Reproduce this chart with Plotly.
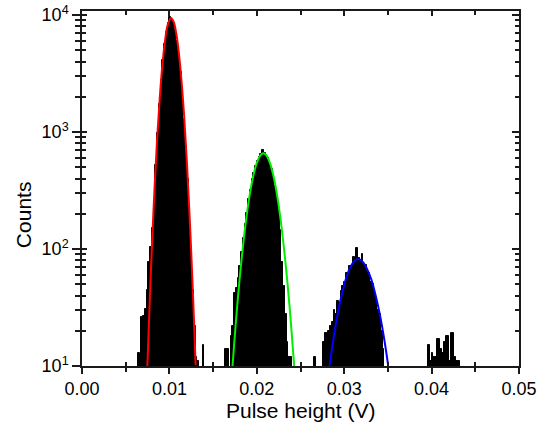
import plotly.graph_objects as go

# Histogram: bin centres (V) and counts
bin_center_v = [
    0.0065, 0.0067, 0.0069, 0.0071, 0.0073, 0.0075, 0.0077, 0.0079, 0.0081, 0.0083,
    0.0085, 0.0087, 0.0089, 0.0091, 0.0093, 0.0095, 0.0097, 0.0099, 0.0101, 0.0103,
    0.0105, 0.0107, 0.0109, 0.0111, 0.0113, 0.0115, 0.0117, 0.0119, 0.0121, 0.0123,
    0.0125, 0.0127, 0.0129, 0.0131, 0.0133, 0.0139,
    0.0165, 0.0167, 0.0171, 0.0173, 0.0175, 0.0177, 0.0179, 0.0181, 0.0183, 0.0185,
    0.0187, 0.0189, 0.0191, 0.0193, 0.0195, 0.0197, 0.0199, 0.0201, 0.0203, 0.0205,
    0.0207, 0.0209, 0.0211, 0.0213, 0.0215, 0.0217, 0.0219, 0.0221, 0.0223, 0.0225,
    0.0227, 0.0229, 0.0231, 0.0233, 0.0235, 0.0237, 0.0239,
    0.0267, 0.0277, 0.0279, 0.0281, 0.0283, 0.0285, 0.0287, 0.0289, 0.0291, 0.0293,
    0.0295, 0.0297, 0.0299, 0.0301, 0.0303, 0.0305, 0.0307, 0.0309, 0.0311, 0.0313,
    0.0315, 0.0317, 0.0319, 0.0321, 0.0323, 0.0325, 0.0327, 0.0329, 0.0331, 0.0333,
    0.0335, 0.0337, 0.0339, 0.0341, 0.0343, 0.0345,
    0.0397, 0.0399, 0.0401, 0.0403, 0.0405, 0.0407, 0.0409, 0.0411, 0.0413, 0.0415,
    0.0417, 0.0419, 0.0421, 0.0423, 0.0425, 0.0427, 0.0429, 0.0431,
]
counts = [
    13, 12, 26, 27, 31, 45, 78, 105, 150, 270,
    520, 980, 1720, 2760, 4150, 5700, 7200, 8500, 9600, 9050,
    8600, 7450, 6050, 4600, 3250, 2150, 1300, 760, 400, 205,
    100, 45, 22, 12, 11, 15,
    14, 14, 18, 22, 42, 46, 56, 72, 95, 125,
    165, 205, 268, 318, 395, 450, 515, 560, 615, 650,
    700, 660, 630, 600, 535, 480, 420, 345, 285, 215,
    145, 78, 48, 28, 16, 12, 12,
    12, 16, 19, 19, 20, 22, 24, 30, 28, 36,
    33, 44, 48, 52, 62, 60, 72, 70, 85, 78,
    101, 84, 80, 90, 74, 73, 64, 62, 52, 50,
    41, 38, 30, 28, 20, 14,
    15, 11, 13, 12, 12, 17, 17, 14, 13, 16,
    18, 18, 11, 19, 19, 12, 11, 11,
]
bin_width_v = 0.0002

# Fitted curves
red_x = [0.00748, 0.0076, 0.0078, 0.0080, 0.0083, 0.0086, 0.0089, 0.0092, 0.0095, 0.0098,
         0.01019, 0.0105, 0.0108, 0.0111, 0.0114, 0.0117, 0.0120, 0.0123, 0.0126, 0.0128, 0.0130]
red_y = [10, 17.5, 44.5, 105, 331, 881, 1982, 3767, 6040, 8185,
         9440, 8690, 6840, 4610, 2660, 1312, 555, 200, 62, 26, 10.2]
green_x = [0.0172, 0.0174, 0.0177, 0.0180, 0.0184, 0.0188, 0.0192, 0.0196, 0.0200, 0.0204,
           0.02075, 0.0211, 0.0215, 0.0219, 0.0223, 0.0227, 0.0231, 0.0235, 0.0238, 0.0241, 0.0243]
green_y = [9.5, 15, 29, 52, 103, 184, 294, 422, 544, 631,
           658, 631, 544, 422, 294, 184, 103, 52, 29, 15, 9.5]
blue_x = [0.0283, 0.0287, 0.0291, 0.0295, 0.0299, 0.0303, 0.0307, 0.0311, 0.0316,
          0.0321, 0.0326, 0.0331, 0.0336, 0.0341, 0.0346, 0.0350]
blue_y = [9.7, 15.8, 24, 34.5, 46, 59, 70, 78, 82,
          78, 68, 55, 40, 27, 16.6, 10.5]

x_tick_vals = [0.0, 0.01, 0.02, 0.03, 0.04, 0.05]
x_tick_text = ["0.00", "0.01", "0.02", "0.03", "0.04", "0.05"]
x_minor_vals = [0.005, 0.015, 0.025, 0.035, 0.045]
y_tick_vals = [10, 100, 1000, 10000]
y_tick_text = ["10<sup>1</sup>", "10<sup>2</sup>", "10<sup>3</sup>", "10<sup>4</sup>"]
y_minor_vals = [m * d for d in (10, 100, 1000) for m in range(2, 10)]

FONT = "Arial, 'Liberation Sans', sans-serif"
AX = "#1a1a1a"

fig = go.Figure()
fig.add_trace(go.Bar(x=bin_center_v, y=counts, width=bin_width_v,
                     marker=dict(color="black", line=dict(color="black", width=1)),
                     showlegend=False, hoverinfo="x+y"))
for xs, ys, col in [(red_x, red_y, "#ff0000"), (green_x, green_y, "#00ee00"), (blue_x, blue_y, "#0000ff")]:
    fig.add_trace(go.Scatter(x=xs, y=ys, mode="lines", line=dict(color=col, width=2, shape="spline", smoothing=1.0),
                             showlegend=False))
# dummy traces to realise the overlay axes
fig.add_trace(go.Scatter(x=[None], y=[None], xaxis="x2", yaxis="y2", showlegend=False))
fig.add_trace(go.Scatter(x=[None], y=[None], xaxis="x3", yaxis="y3", showlegend=False))

xr = [0, 0.05]
yr = [1, 4.034]
common = dict(showgrid=False, zeroline=False, tickcolor=AX, tickwidth=1.5, automargin=False)

fig.update_layout(
    width=547, height=434,
    margin=dict(l=82, r=28, t=11, b=68, autoexpand=False),
    paper_bgcolor="white", plot_bgcolor="white",
    bargap=0, barmode="overlay",
    font=dict(family=FONT, color="black", size=18),
    xaxis=dict(range=xr, showline=True, linecolor=AX, linewidth=1.5, ticks="outside", ticklen=6,
               tickmode="array", tickvals=x_tick_vals, ticktext=x_tick_text,
               tickfont=dict(size=18, family=FONT, color="black"),
               minor=dict(ticks="outside", ticklen=4, tickvals=x_minor_vals, tickcolor=AX, tickwidth=1.5),
               **common),
    xaxis2=dict(range=xr, overlaying="x", anchor="y", side="bottom", showline=False, ticks="inside", ticklen=4,
                tickmode="array", tickvals=x_minor_vals, showticklabels=False, **common),
    xaxis3=dict(range=xr, overlaying="x", anchor="y", side="top", showline=True, linecolor=AX, linewidth=1.5,
                ticks="inside", ticklen=5, tickmode="array", tickvals=x_tick_vals, showticklabels=False,
                minor=dict(ticks="inside", ticklen=4, tickvals=x_minor_vals, tickcolor=AX, tickwidth=1.5),
                **common),
    yaxis=dict(type="log", range=yr, showline=True, linecolor=AX, linewidth=1.5, ticks="outside", ticklen=8,
               tickmode="array", tickvals=y_tick_vals, ticktext=y_tick_text,
               tickfont=dict(size=18, family=FONT, color="black"),
               minor=dict(ticks="outside", ticklen=5, tickvals=y_minor_vals, tickcolor=AX, tickwidth=1.5),
               **common),
    yaxis2=dict(type="log", range=yr, overlaying="y", anchor="x", side="left", showline=False, ticks="inside",
                ticklen=5, tickmode="array", tickvals=y_tick_vals, showticklabels=False,
                minor=dict(ticks="inside", ticklen=4, tickvals=y_minor_vals, tickcolor=AX, tickwidth=1.5),
                **common),
    yaxis3=dict(type="log", range=yr, overlaying="y", anchor="x", side="right", showline=True, linecolor=AX,
                linewidth=1.5, ticks="inside", ticklen=7, tickmode="array", tickvals=y_tick_vals,
                showticklabels=False,
                minor=dict(ticks="inside", ticklen=4, tickvals=y_minor_vals, tickcolor=AX, tickwidth=1.5),
                **common),
    annotations=[
        dict(text="Pulse height (V)", xref="paper", yref="paper", x=0.5, y=-0.124,
             xanchor="center", yanchor="middle", showarrow=False, font=dict(size=21, family=FONT, color="black")),
        dict(text="Counts", xref="paper", yref="paper", x=-0.135, y=0.425, textangle=-90,
             xanchor="center", yanchor="middle", showarrow=False, font=dict(size=21, family=FONT, color="black")),
    ],
)

fig.write_html("out.html")
